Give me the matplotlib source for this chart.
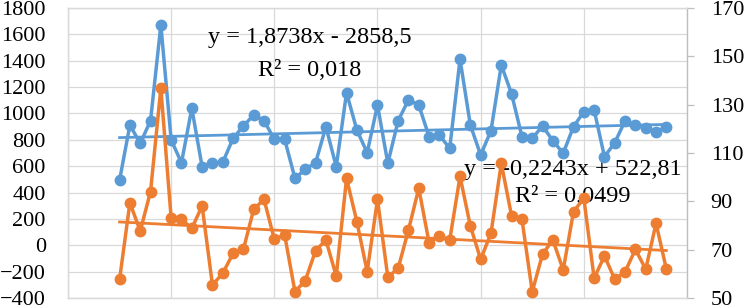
import matplotlib.pyplot as plt
import numpy as np

years = list(range(1960, 2014))

# left axis series (blue)
blue = [495, 912, 773, 945, 1671, 799, 626, 1039, 596, 622,
        629, 811, 905, 988, 945, 804, 804, 508, 576, 626,
        900, 596, 1157, 874, 702, 1064, 622, 945, 1102, 1064,
        824, 836, 735, 1411, 912, 685, 869, 1367, 1148, 824,
        811, 905, 793, 698, 900, 1013, 1026, 672, 778, 945,
        912, 887, 862, 895]

# right axis series (orange)
orange = [57.7, 89.4, 77.7, 94.0, 136.8, 83.0, 82.6, 78.8, 88.1, 55.4,
          60.2, 68.5, 70.1, 86.7, 90.8, 74.3, 76.1, 52.6, 57.2, 69.6,
          74.0, 59.1, 99.5, 81.6, 60.9, 90.8, 58.6, 62.3, 78.1, 95.4,
          72.9, 75.7, 74.0, 100.3, 79.8, 66.0, 76.8, 105.7, 83.9, 82.6,
          52.6, 68.2, 74.0, 61.6, 85.7, 91.3, 58.2, 67.4, 57.7, 60.9,
          70.1, 61.9, 80.9, 61.9]

eq_blue = ["y = 1,8738x - 2858,5", "R² = 0,018"]
eq_orange = ["y = -0,2243x + 522,81", "R² = 0,0499"]

BLUE = "#5B9BD5"
ORANGE = "#ED7D31"
GRID = "#D9D9D9"

plt.rcParams["font.family"] = ["Liberation Serif", "DejaVu Serif"]

W, H = 744, 308
fig = plt.figure(figsize=(W / 100, H / 100), dpi=100)
ax = fig.add_axes([68 / W, 10 / H, 619 / W, 290 / H])
ax2 = ax.twinx()

x = np.array(years)
ax.plot(x, blue, color=BLUE, lw=2.5, marker="o", ms=7.5, zorder=3)
pb = np.polyfit(x, blue, 1)
ax.plot([x[0], x[-1]], np.polyval(pb, [x[0], x[-1]]), color=BLUE, lw=2.0, zorder=2)

ax2.plot(x, orange, color=ORANGE, lw=2.5, marker="o", ms=7.5, zorder=3)
po = np.polyfit(x, orange, 1)
ax2.plot([x[0], x[-1]], np.polyval(po, [x[0], x[-1]]), color=ORANGE, lw=2.0, zorder=2)

ax.set_xlim(1955, 2015)
ax.set_xticks(range(1955, 2016, 10))
ax.set_xticklabels([])
ax.tick_params(axis="x", length=0)
ax.set_ylim(-400, 1800)
ax.set_yticks(range(-400, 1801, 200))
ax.tick_params(axis="y", length=0, pad=16, labelsize=16)
ax.grid(True, color=GRID, lw=0.9)
ax.set_axisbelow(True)

ax2.set_ylim(50, 170)
ax2.set_yticks(range(50, 171, 20))
ax2.tick_params(axis="y", length=5, width=0.9, color="#BFBFBF", pad=12, labelsize=16)

for a in (ax, ax2):
    for s in a.spines.values():
        s.set_color(GRID)
        s.set_linewidth(0.9)
ax2.spines["right"].set_color("#BFBFBF")

tf = fig.transFigure
ax.text(310 / W, 1 - 37 / H, eq_blue[0], transform=tf, ha="center", va="center", fontsize=17.5, zorder=1)
ax.text(310 / W, 1 - 70 / H, eq_blue[1], transform=tf, ha="center", va="center", fontsize=17.5, zorder=1)
ax.text(573 / W, 1 - 170 / H, eq_orange[0], transform=tf, ha="center", va="center", fontsize=17.5, zorder=1)
ax.text(573 / W, 1 - 197 / H, eq_orange[1], transform=tf, ha="center", va="center", fontsize=17.5, zorder=1)

fig.savefig("out.png", dpi=100)
